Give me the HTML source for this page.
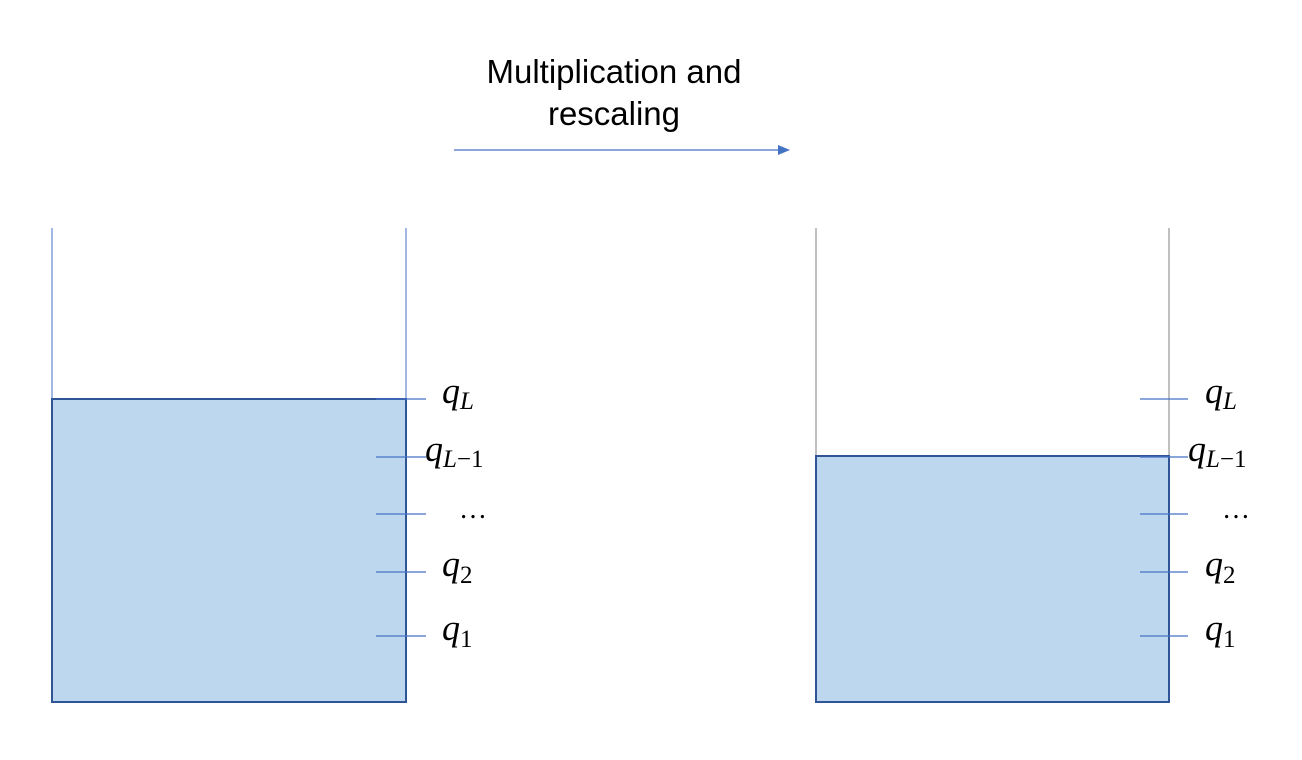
<!DOCTYPE html>
<html><head><meta charset="utf-8"><style>
body{margin:0;background:#fff;width:1302px;height:755px;overflow:hidden}
svg text{font-family:"Liberation Serif",serif;font-style:italic}
</style></head><body>
<svg width="1302" height="755" viewBox="0 0 1302 755">
<text x="614" y="83" text-anchor="middle" style="font-family:'Liberation Sans',sans-serif;font-style:normal;font-size:33px" fill="#000">Multiplication and</text>
<text x="614" y="125" text-anchor="middle" style="font-family:'Liberation Sans',sans-serif;font-style:normal;font-size:33px" fill="#000">rescaling</text>
<line x1="454" y1="150" x2="780" y2="150" stroke="#4472C4" stroke-width="1.3"/>
<polygon points="790,150 778,145 778,155" fill="#4472C4"/>
<line x1="52" y1="228" x2="52" y2="400" stroke="#4472C4" stroke-width="1"/>
<line x1="406" y1="228" x2="406" y2="400" stroke="#4472C4" stroke-width="1"/>
<rect x="52" y="399" width="354" height="303" fill="#BDD7EE" stroke="#2F5597" stroke-width="2"/>
<g stroke="#4472C4" stroke-width="1.2">
<line x1="376" y1="399" x2="426" y2="399"/><line x1="376" y1="457" x2="426" y2="457"/>
<line x1="376" y1="514" x2="426" y2="514"/><line x1="376" y1="572" x2="426" y2="572"/>
<line x1="376" y1="636" x2="426" y2="636"/></g>
<line x1="816" y1="228" x2="816" y2="457" stroke="#808080" stroke-width="1"/>
<line x1="1169" y1="228" x2="1169" y2="457" stroke="#808080" stroke-width="1"/>
<rect x="816" y="456" width="353" height="246" fill="#BDD7EE" stroke="#2F5597" stroke-width="2"/>
<g stroke="#4472C4" stroke-width="1.2">
<line x1="1140" y1="399" x2="1188" y2="399"/><line x1="1140" y1="457" x2="1188" y2="457"/>
<line x1="1140" y1="514" x2="1188" y2="514"/><line x1="1140" y1="572" x2="1188" y2="572"/>
<line x1="1140" y1="636" x2="1188" y2="636"/></g>
<g fill="#000" font-size="36">
<text x="442" y="403">q<tspan font-size="25" dy="6">L</tspan></text>
<text x="425" y="461">q<tspan font-size="25" dy="6">L<tspan style="font-style:normal">−1</tspan></tspan></text>
<text x="459" y="518" style="font-style:normal" font-size="28">…</text>
<text x="442" y="576">q<tspan font-size="25" dy="7" style="font-style:normal">2</tspan></text>
<text x="442" y="640">q<tspan font-size="25" dy="7" style="font-style:normal">1</tspan></text>
<text x="1205" y="403">q<tspan font-size="25" dy="6">L</tspan></text>
<text x="1188" y="461">q<tspan font-size="25" dy="6">L<tspan style="font-style:normal">−1</tspan></tspan></text>
<text x="1222" y="518" style="font-style:normal" font-size="28">…</text>
<text x="1205" y="576">q<tspan font-size="25" dy="7" style="font-style:normal">2</tspan></text>
<text x="1205" y="640">q<tspan font-size="25" dy="7" style="font-style:normal">1</tspan></text>
</g>
</svg>
</body></html>
